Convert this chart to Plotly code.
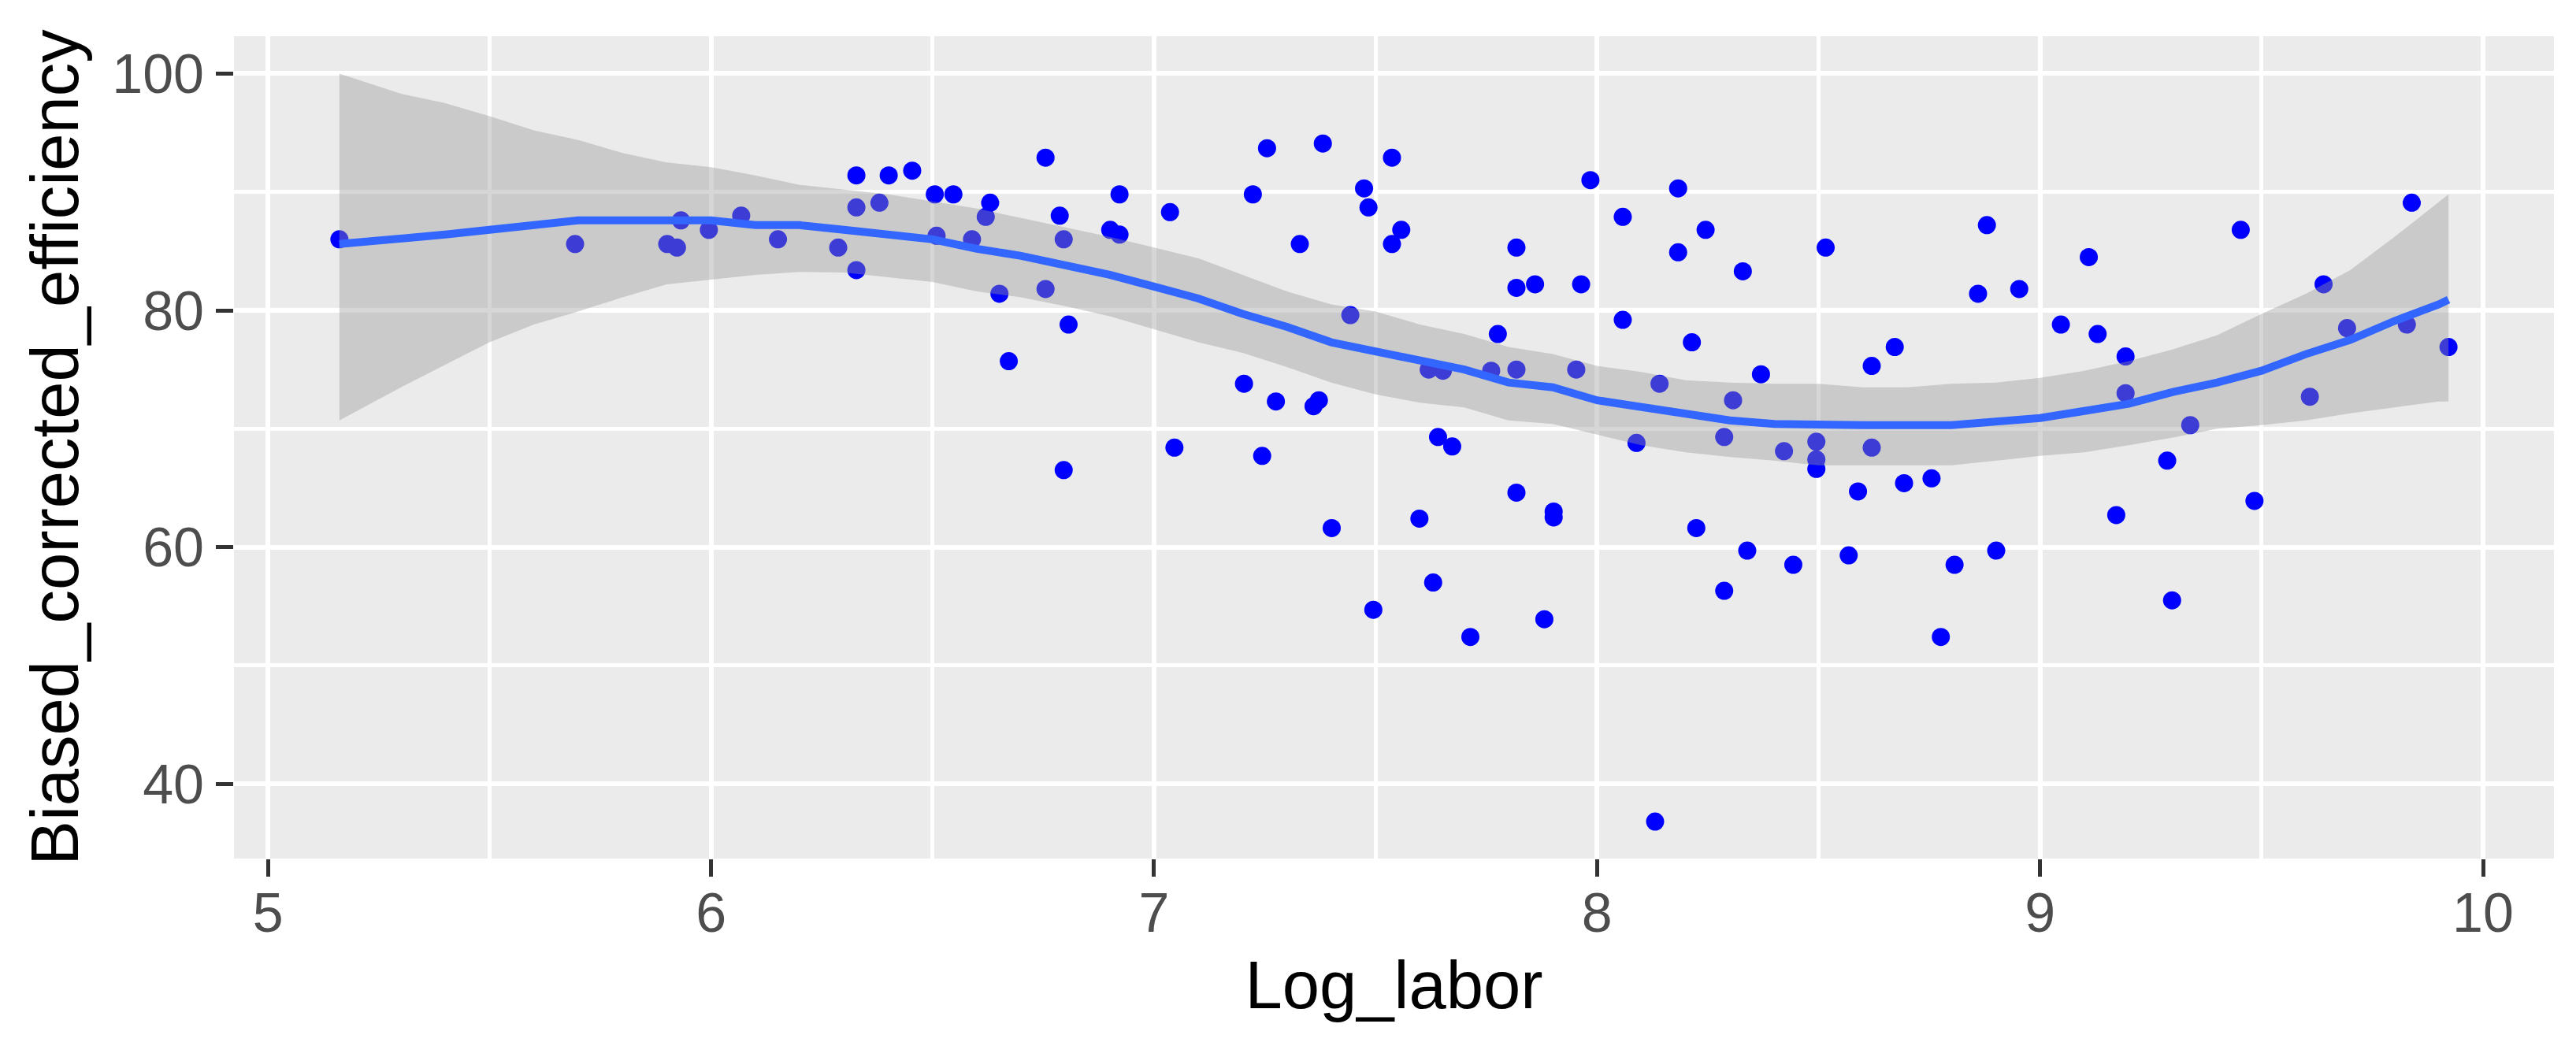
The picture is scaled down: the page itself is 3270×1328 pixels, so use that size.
import plotly.graph_objects as go

# ---- data ----
log_labor = [
    5.161, 5.693, 5.901, 5.923, 5.932, 5.995, 6.068, 6.151,
    6.287, 6.328, 6.328, 6.328, 6.380, 6.401, 6.454, 6.505, 6.509, 6.547,
    6.589, 6.620, 6.630, 6.651, 6.672, 6.755, 6.755, 6.787, 6.796, 6.796,
    6.807, 6.901, 6.922, 6.922, 7.036, 7.046, 7.203, 7.223, 7.244, 7.255, 7.275,
    7.329, 7.360, 7.372, 7.381, 7.401, 7.443, 7.474, 7.484, 7.495, 7.537,
    7.537, 7.558, 7.599, 7.620, 7.630, 7.641, 7.652, 7.673, 7.714, 7.761,
    7.776, 7.818, 7.818, 7.818, 7.818, 7.860, 7.881, 7.902, 7.902, 7.953,
    7.964, 7.985, 8.058, 8.058, 8.089, 8.131, 8.141, 8.183, 8.183, 8.214,
    8.224, 8.245, 8.287, 8.287, 8.307, 8.329, 8.339,
    8.370, 8.422, 8.443, 8.495, 8.495, 8.495, 8.516, 8.568, 8.589, 8.620,
    8.620, 8.672, 8.693, 8.755, 8.776, 8.807, 8.860, 8.880, 8.901, 8.953,
    9.047, 9.110, 9.130, 9.172, 9.193, 9.193, 9.287, 9.298, 9.339,
    9.453, 9.484, 9.609, 9.640, 9.693, 9.828, 9.839, 9.922,
]
efficiency = [
    86.0, 85.6, 85.6, 85.3, 87.6, 86.8, 88.0, 86.0,
    85.3, 91.4, 88.7, 83.4, 89.1, 91.4, 91.8, 89.8, 86.3, 89.8,
    86.0, 87.9, 89.1, 81.4, 75.7, 92.9, 81.8, 88.0, 86.0, 66.5,
    78.8, 86.8, 89.8, 86.4, 88.3, 68.4, 73.8, 89.8, 67.7, 93.7, 72.3,
    85.6, 71.9, 72.4, 94.1, 61.6, 79.6, 90.3, 88.7, 54.7, 92.9,
    85.6, 86.8, 62.4, 75.0, 57.0, 69.3, 74.9, 68.5, 52.4, 74.9,
    78.0, 85.3, 81.9, 75.0, 64.6, 82.2, 53.9, 62.5, 63.0, 75.0,
    82.2, 91.0, 87.9, 79.2, 68.8, 36.8, 73.8, 90.3, 84.9, 77.3,
    61.6, 86.8, 56.3, 69.3, 72.4, 83.3, 59.7,
    74.6, 68.1, 58.5, 68.9, 67.4, 66.6, 85.3, 59.3, 64.7, 75.3,
    68.4, 76.9, 65.4, 65.8, 52.4, 58.5, 81.4, 87.2, 59.7, 81.8,
    78.8, 84.5, 78.0, 62.7, 76.1, 73.0, 67.3, 55.5, 70.3,
    86.8, 63.9, 72.7, 82.2, 78.5, 78.8, 89.1, 76.9,
]

# loess smooth and its confidence band
smooth_x = [5.161, 5.3, 5.4, 5.5, 5.6, 5.7, 5.8, 5.9, 6.0, 6.1, 6.2, 6.3, 6.4,
            6.5, 6.6, 6.7, 6.8, 6.9, 7.0, 7.1, 7.2, 7.3, 7.4, 7.5, 7.6, 7.7,
            7.8, 7.9, 8.0, 8.1, 8.2, 8.3, 8.4, 8.5, 8.6, 8.7, 8.8, 8.9, 9.0,
            9.1, 9.2, 9.3, 9.4, 9.5, 9.6, 9.7, 9.8, 9.9, 9.922]
smooth_y = [85.6, 86.0, 86.4, 86.8, 87.2, 87.6, 87.6, 87.6, 87.6, 87.2, 87.2,
            86.8, 86.4, 86.0, 85.2, 84.6, 83.8, 83.0, 82.0, 81.0, 79.7, 78.6,
            77.3, 76.5, 75.7, 75.0, 73.9, 73.5, 72.4, 71.8, 71.2, 70.7, 70.4,
            70.3, 70.3, 70.3, 70.3, 70.6, 70.9, 71.5, 72.1, 73.1, 73.9, 74.9,
            76.3, 77.5, 79.1, 80.5, 80.9]
smooth_upper = [100.0, 98.3, 97.5, 96.4, 95.2, 94.4, 93.3, 92.5, 92.1, 91.4,
                90.6, 90.2, 89.8, 89.2, 88.6, 87.8, 87.0, 86.2, 85.3, 84.4,
                83.0, 81.6, 80.5, 79.9, 78.8, 78.0, 76.9, 76.3, 75.3, 74.8,
                74.1, 73.9, 73.8, 73.8, 73.5, 73.5, 73.8, 73.9, 74.3, 74.9,
                75.7, 76.7, 77.9, 79.7, 81.4, 83.4, 86.2, 89.2, 89.8]
smooth_lower = [70.7, 73.5, 75.4, 77.3, 78.8, 79.9, 81.1, 82.2, 82.6, 83.0,
                83.25, 83.2, 82.8, 82.4, 81.6, 81.1, 80.35, 79.5, 78.4, 77.3,
                76.4, 75.2, 73.9, 72.9, 72.2, 71.8, 70.7, 70.4, 69.5, 68.6,
                68.0, 67.6, 67.3, 66.9, 66.9, 66.9, 66.9, 67.3, 67.7, 68.0,
                68.6, 69.25, 70.0, 70.3, 70.7, 71.3, 71.8, 72.3, 72.3]

x_ticks = [5, 6, 7, 8, 9, 10]
y_ticks = [40, 60, 80, 100]

FONT = "Liberation Sans, Arial, sans-serif"

fig = go.Figure()
fig.add_trace(go.Scatter(
    x=log_labor, y=efficiency, mode="markers",
    marker=dict(color="#0000FF", size=23, line=dict(width=0)),
    hoverinfo="x+y",
))
fig.add_trace(go.Scatter(
    x=smooth_x + smooth_x[::-1], y=smooth_upper + smooth_lower[::-1],
    mode="lines", fill="toself", fillcolor="rgba(153,153,153,0.4)",
    line=dict(width=0), hoverinfo="skip",
))
fig.add_trace(go.Scatter(
    x=smooth_x, y=smooth_y, mode="lines",
    line=dict(color="#3366FF", width=10),
))

axis_common = dict(
    showgrid=True, gridcolor="white", gridwidth=6,
    zeroline=False, showline=False,
    ticks="outside", ticklen=22, tickwidth=5, tickcolor="#333333",
    tickfont=dict(family=FONT, size=70, color="#4D4D4D"),
)

fig.update_layout(
    width=3270, height=1328,
    margin=dict(l=289, r=36, t=38, b=246, autoexpand=False),
    paper_bgcolor="white", plot_bgcolor="#EBEBEB",
    showlegend=False,
    xaxis=dict(
        range=[4.923, 10.160], tickmode="array", tickvals=x_ticks,
        ticktext=[str(v) for v in x_ticks],
        minor=dict(showgrid=True, gridcolor="white", gridwidth=5,
                   tickmode="linear", tick0=4.5, dtick=1, ticks=""),
        ticklabelstandoff=-14,
        title=dict(text="Log_labor", font=dict(family=FONT, size=85, color="black"),
                   standoff=23),
        **axis_common,
    ),
    yaxis=dict(
        range=[33.68, 103.16], tickmode="array", tickvals=y_ticks,
        ticktext=[str(v) for v in y_ticks],
        minor=dict(showgrid=True, gridcolor="white", gridwidth=5,
                   tickmode="linear", tick0=30, dtick=20, ticks=""),
        ticklabelstandoff=1,
        title=dict(text="Biased_corrected_efficiency",
                   font=dict(family=FONT, size=85, color="black"), standoff=14),
        **axis_common,
    ),
)

fig.write_html("out.html")
